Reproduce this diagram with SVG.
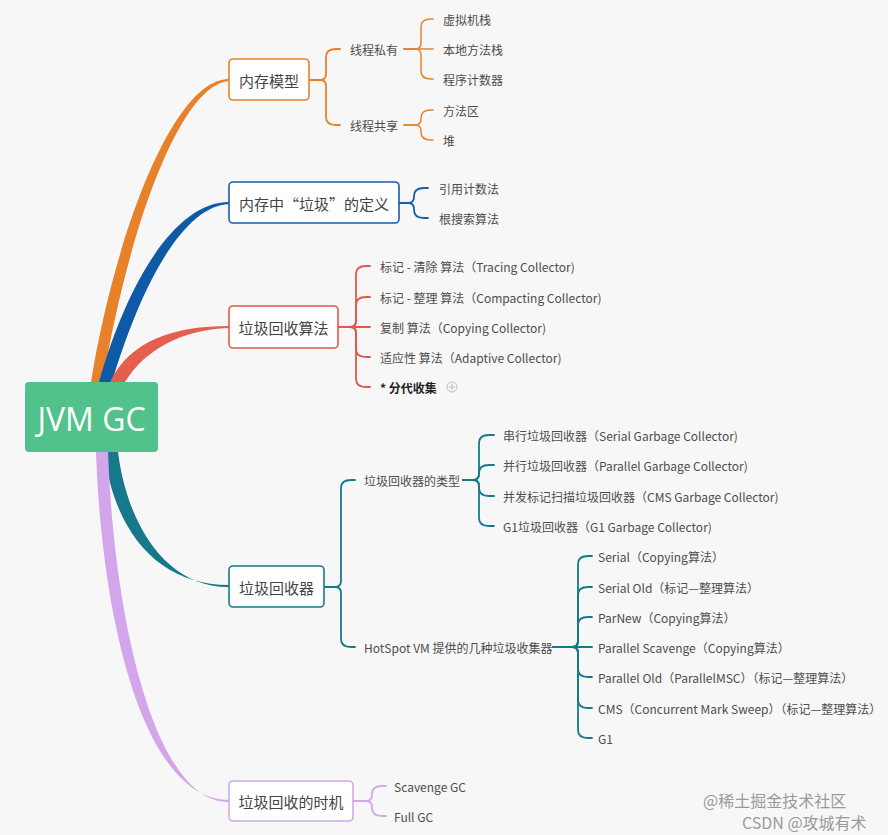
<svg xmlns="http://www.w3.org/2000/svg" width="888" height="835" viewBox="0 0 888 835">
<style>
.bg{fill:#f7f7f7}
.box{fill:#ffffff;stroke-width:1.6}
.lbl{font-family:"Noto Sans CJK SC","Noto Sans",sans-serif;font-size:15px;fill:#444;text-anchor:middle;dominant-baseline:central}
.sub{font-family:"Noto Sans CJK SC","Noto Sans",sans-serif;font-size:12px;fill:#4d4d4d;dominant-baseline:central}
.bold{font-weight:bold;fill:#222}
.c{fill:none;stroke-width:1.8;stroke-linecap:round;stroke-linejoin:round}
.c2{stroke-width:1.5}
.org{stroke:#e8822a}
.blu{stroke:#1a5ea8}
.red{stroke:#e2584a}
.tea{stroke:#16798b}
.pur{stroke:#d2aae9}
.wm{font-family:"Noto Sans CJK SC",sans-serif;font-size:16px;fill:#9a9a9a}
</style>
<rect class="bg" x="0" y="0" width="888" height="835"/>

<g id="connectors">
  <path fill="#e8822a" d="M91,382 C114,240 172,79 229,79 L229,81 C178,85 126,240 103,382 Z"/>
  <path fill="#0f5aa6" d="M99,382 C128,280 176,202 229,202 L229,204 C184,206 142,282 112,382 Z"/>
  <path fill="#e65e4e" d="M110,382 C130,340 175,326 229,326 L229,328 C180,330 145,350 125,382 Z"/>
  <path fill="#16798b" d="M104,452 C115,535 160,585 229,585 L229,587 C170,588 128,530 118,452 Z"/>
  <path fill="#d3a6ec" d="M96,452 C102,625 145,800 229,800 L229,802 C155,803 114,620 108,452 Z"/>

  <path class="c org" d="M309,80 H320 Q326,80 326,74 V57 Q326,49 336,49 H340"/>
  <path class="c org" d="M309,80 H320 Q326,80 326,86 V117 Q326,125 336,125 H340"/>
  <path class="c c2 org" d="M404,49 H415 Q421,49 421,43 V27 Q421,19 431,19 H433"/>
  <path class="c c2 org" d="M404,49 H433"/>
  <path class="c c2 org" d="M404,49 H415 Q421,49 421,55 V71 Q421,79 431,79 H433"/>
  <path class="c c2 org" d="M404,125 H415 Q421,125 421,119 V118 Q421,110 431,110 H433"/>
  <path class="c c2 org" d="M404,125 H415 Q421,125 421,131 V132 Q421,140 431,140 H433"/>

  <path class="c blu" d="M399,203 H408 Q414,203 414,197 V196 Q414,188 424,188 H428"/>
  <path class="c blu" d="M399,203 H408 Q414,203 414,209 V210 Q414,218 424,218 H428"/>

  <path class="c red" d="M338,327 H350 Q356,327 356,321 V274 Q356,266 366,266 H370"/>
  <path class="c red" d="M338,327 H350 Q356,327 356,321 V305 Q356,297 366,297 H370"/>
  <path class="c red" d="M338,327 H370"/>
  <path class="c red" d="M338,327 H350 Q356,327 356,333 V349 Q356,357 366,357 H370"/>
  <path class="c red" d="M338,327 H350 Q356,327 356,333 V379 Q356,387 366,387 H370"/>

  <path class="c tea" d="M324,587 H335 Q341,587 341,581 V488 Q341,480 351,480 H355"/>
  <path class="c tea" d="M324,587 H335 Q341,587 341,593 V639 Q341,647 351,647 H355"/>
  <path class="c tea" d="M463,480 H473 Q479,480 479,474 V443 Q479,435 489,435 H494"/>
  <path class="c tea" d="M463,480 H473 Q479,480 479,474 V473 Q479,465 489,465 H494"/>
  <path class="c tea" d="M463,480 H473 Q479,480 479,486 V488 Q479,496 489,496 H494"/>
  <path class="c tea" d="M463,480 H473 Q479,480 479,486 V518 Q479,526 489,526 H494"/>
  <path class="c tea" d="M553,647 H572 Q578,647 578,641 V564 Q578,556 588,556 H592"/>
  <path class="c tea" d="M553,647 H572 Q578,647 578,641 V595 Q578,587 588,587 H592"/>
  <path class="c tea" d="M553,647 H572 Q578,647 578,641 V625 Q578,617 588,617 H592"/>
  <path class="c tea" d="M553,647 H592"/>
  <path class="c tea" d="M553,647 H572 Q578,647 578,653 V669 Q578,677 588,677 H592"/>
  <path class="c tea" d="M553,647 H572 Q578,647 578,653 V700 Q578,708 588,708 H592"/>
  <path class="c tea" d="M553,647 H572 Q578,647 578,653 V730 Q578,738 588,738 H592"/>

  <path class="c pur" d="M353,801 H366 Q372,801 372,795 V794 Q372,786 382,786 H386"/>
  <path class="c pur" d="M353,801 H366 Q372,801 372,807 V808 Q372,816 382,816 H386"/>
</g>

<g id="root">
  <rect x="25" y="382" width="133" height="70" rx="4" fill="#52c28c"/>
  <text x="91.5" y="418" font-family="'Open Sans','Noto Sans',sans-serif" font-size="32" fill="#ffffff" text-anchor="middle" dominant-baseline="central">JVM GC</text>
</g>

<g id="n-memory-model">
  <rect class="box" x="229" y="59" width="80" height="41" rx="4" stroke="#e8822a"/>
  <text class="lbl" x="269" y="80">内存模型</text>
</g>
<g id="n-private"><text class="sub" x="350" y="49">线程私有</text></g>
<g id="n-shared"><text class="sub" x="350" y="125">线程共享</text></g>
<g id="n-vmstack"><text class="sub" x="443" y="19">虚拟机栈</text></g>
<g id="n-nativestack"><text class="sub" x="443" y="49">本地方法栈</text></g>
<g id="n-pc"><text class="sub" x="443" y="79">程序计数器</text></g>
<g id="n-method"><text class="sub" x="443" y="110">方法区</text></g>
<g id="n-heap"><text class="sub" x="443" y="140">堆</text></g>

<g id="n-garbage-def">
  <rect class="box" x="229" y="182" width="170" height="41" rx="4" stroke="#1a5ea8"/>
  <text class="lbl" x="314" y="203">内存中“垃圾”的定义</text>
</g>
<g id="n-refcount"><text class="sub" x="439" y="188">引用计数法</text></g>
<g id="n-rootsearch"><text class="sub" x="439" y="218">根搜索算法</text></g>

<g id="n-algorithms">
  <rect class="box" x="229" y="306" width="109" height="42" rx="4" stroke="#e2584a"/>
  <text class="lbl" x="283.5" y="327">垃圾回收算法</text>
</g>
<g id="n-tracing"><text class="sub" x="380" y="266">标记 - 清除 算法（Tracing Collector)</text></g>
<g id="n-compacting"><text class="sub" x="380" y="297">标记 - 整理 算法（Compacting Collector)</text></g>
<g id="n-copying"><text class="sub" x="380" y="327">复制 算法（Copying Collector)</text></g>
<g id="n-adaptive"><text class="sub" x="380" y="357">适应性 算法（Adaptive Collector)</text></g>
<g id="n-generational">
  <text class="sub bold" x="380" y="387">* 分代收集</text>
  <circle cx="452" cy="387" r="5" fill="none" stroke="#bdbdbd" stroke-width="1"/>
  <path d="M449,387 H455 M452,384 V390" stroke="#bdbdbd" stroke-width="1"/>
</g>

<g id="n-collectors">
  <rect class="box" x="229" y="566" width="95" height="41" rx="4" stroke="#16798b"/>
  <text class="lbl" x="276.5" y="587">垃圾回收器</text>
</g>
<g id="n-types"><text class="sub" x="364" y="480">垃圾回收器的类型</text></g>
<g id="n-serial-gc"><text class="sub" x="503" y="435">串行垃圾回收器（Serial Garbage Collector)</text></g>
<g id="n-parallel-gc"><text class="sub" x="503" y="465">并行垃圾回收器（Parallel Garbage Collector)</text></g>
<g id="n-cms-gc"><text class="sub" x="503" y="496">并发标记扫描垃圾回收器（CMS Garbage Collector)</text></g>
<g id="n-g1-gc"><text class="sub" x="503" y="526">G1垃圾回收器（G1 Garbage Collector)</text></g>
<g id="n-hotspot"><text class="sub" x="364" y="647">HotSpot VM 提供的几种垃圾收集器</text></g>
<g id="n-serial"><text class="sub" x="598" y="556">Serial（Copying算法）</text></g>
<g id="n-serial-old"><text class="sub" x="598" y="587">Serial Old（标记—整理算法）</text></g>
<g id="n-parnew"><text class="sub" x="598" y="617">ParNew（Copying算法）</text></g>
<g id="n-parallel-scavenge"><text class="sub" x="598" y="647">Parallel Scavenge（Copying算法）</text></g>
<g id="n-parallel-old"><text class="sub" x="598" y="677">Parallel Old（ParallelMSC）（标记—整理算法）</text></g>
<g id="n-cms"><text class="sub" x="598" y="708">CMS（Concurrent Mark Sweep）（标记—整理算法）</text></g>
<g id="n-g1"><text class="sub" x="598" y="738">G1</text></g>

<g id="n-timing">
  <rect class="box" x="229" y="781" width="124" height="40" rx="4" stroke="#d2aae9"/>
  <text class="lbl" x="291" y="801">垃圾回收的时机</text>
</g>
<g id="n-scavenge"><text class="sub" x="394" y="786">Scavenge GC</text></g>
<g id="n-full"><text class="sub" x="394" y="816">Full GC</text></g>

<g id="watermark">
  <text class="wm" x="703" y="807">@稀土掘金技术社区</text>
  <text class="wm" x="742" y="829">CSDN @攻城有术</text>
</g>
</svg>
